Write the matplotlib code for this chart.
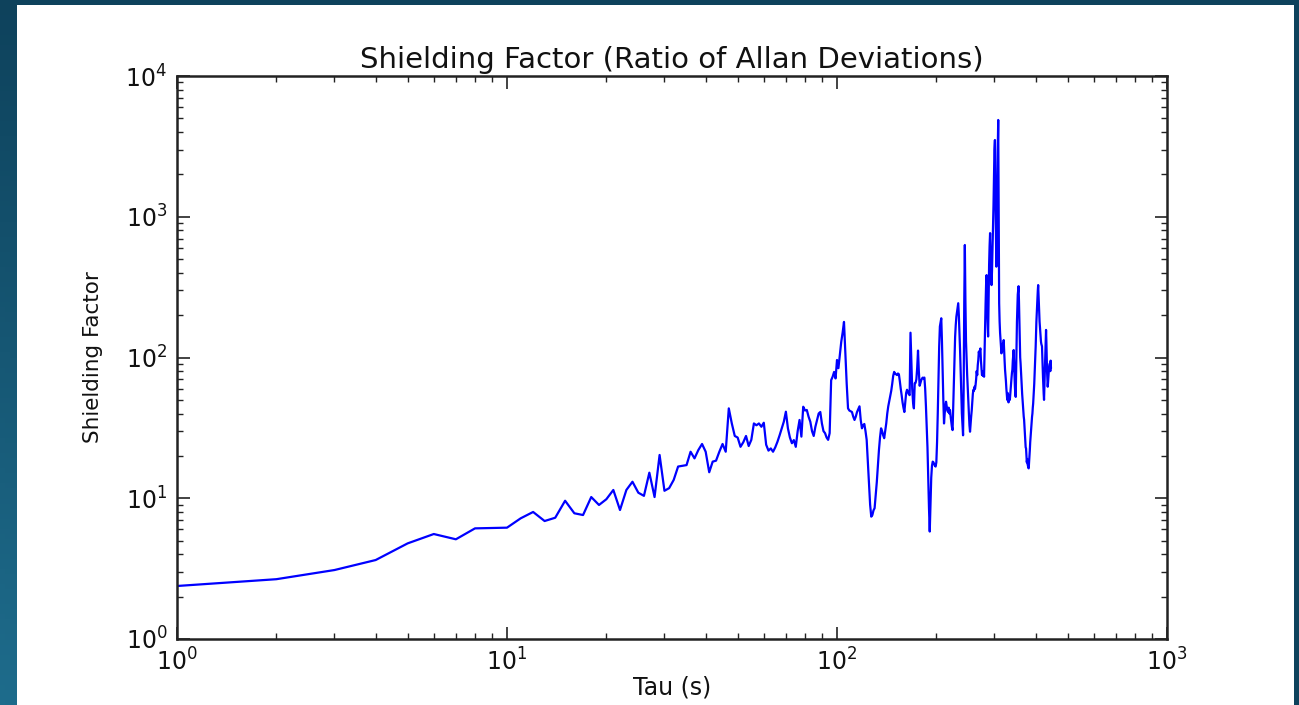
import numpy as np
import matplotlib
matplotlib.use("Agg")
import matplotlib.pyplot as plt
from matplotlib.patches import Rectangle
from matplotlib.ticker import LogLocator

# ---------------- data ----------------
title = "Shielding Factor (Ratio of Allan Deviations)"
xlabel = "Tau (s)"
ylabel = "Shielding Factor"

shielding = [
    2.38, 2.66, 3.09, 3.64, 4.78, 5.57, 5.11, 6.11, 6.15, 6.18,
    7.2, 7.99, 6.89, 7.27, 9.6, 7.82, 7.6, 10.2, 8.96, 9.84,
    11.45, 8.25, 11.45, 13.1, 10.95, 10.4, 15.2, 10.2, 20.3, 11.3,
    11.8, 13.5, 16.8, 17.0, 17.2, 21.4, 19.2, 22.0, 24.3, 21.4,
    15.3, 18.2, 18.5, 21.4, 24.3, 21.4, 43.5, 34.0, 27.7, 27.0,
    23.2, 25.0, 27.7, 23.5, 26.0, 34.0, 33.0, 34.0, 32.2, 34.4,
    24.0, 21.8, 22.6, 21.4, 23.0, 25.2, 28.0, 31.4, 35.0, 41.2,
    31.4, 27.0, 24.6, 25.9, 23.2, 30.0, 36.0, 27.4, 44.7, 42.0,
    42.4, 38.0, 35.0, 30.0, 27.7, 32.2, 36.0, 40.0, 41.0, 34.0,
    30.0, 29.0, 27.0, 26.0, 29.0, 69.0, 73.0, 79.0, 71.0, 96.0,
    84, 105, 129, 150, 179, 107, 65, 43.5, 42, 41.5,
    41, 38, 36, 38, 41, 43, 45, 36, 31.4, 33,
    33.7, 30, 26, 18, 12.5, 9, 7.4, 7.6, 8.2, 8.5,
    10.5, 13, 17, 22, 27, 31.4, 30, 28, 26.7, 30,
    34, 40, 45, 49, 53, 58, 65, 74, 79, 77,
    76, 75, 77, 76, 68, 60, 54, 48, 44, 41,
    48, 56, 59, 57, 55, 54, 150, 95, 60, 48,
    43.5, 65.6, 66, 70, 85, 112, 80, 63, 66, 69,
    71, 72, 71, 72, 60, 45, 32, 23, 14, 8.5,
    5.8, 9, 14, 17, 18.2, 18, 17.5, 17, 16.8, 18,
    25, 40, 70, 120, 166, 178, 190, 130, 80, 50,
    34, 40, 45, 48.5, 45, 42, 41, 44, 40, 42.4,
    38, 35, 32, 30.5, 45, 69, 100, 140, 170, 195,
    210, 225, 243, 200, 150, 113, 80, 55, 40, 33,
    28, 60, 250, 630, 250, 130, 96, 75, 60, 50,
    40, 33, 29.7, 34, 38, 42, 48, 55, 59, 58,
    62, 60, 64, 70, 80, 75, 88, 96, 110, 104,
    112, 116, 95, 85, 75, 78, 74, 80, 73, 110,
    160, 240, 330, 385, 250, 180, 141, 260, 450, 620,
    765, 500, 400, 327, 420, 600, 830, 1200, 2000, 3000,
    3508, 1500, 800, 442, 700, 1500, 3000, 4870, 1000, 243,
    180, 150, 133, 115, 107, 120, 112, 125, 118, 133,
    110, 95, 82, 75, 68, 60, 55, 50, 56, 52,
    48, 54, 50, 50, 55, 60, 66, 72, 78, 82,
    95, 105, 113, 90, 75, 62, 55, 52.5, 80, 130,
    180, 230, 280, 300, 321, 250, 180, 130, 100, 91,
    80, 70, 60, 55, 50, 46, 42, 38, 36, 32,
    28, 25, 23, 22.6, 20, 18, 19, 17.5, 17, 16.5,
    16.3, 18, 20, 22, 25, 27.3, 30, 33, 36, 38,
    40, 44, 47, 52, 58, 65, 75, 86, 100, 120,
    150, 180, 206, 240, 280, 300, 327, 280, 230, 200,
    180, 166, 150, 140, 130, 125, 122, 120, 100, 85,
    72, 62, 55, 50, 60, 72, 90, 110, 135, 157,
    130, 100, 80, 70, 62, 66, 72, 78, 84, 88,
    90, 91, 80, 95, 85,
]
tau = np.arange(1, len(shielding) + 1)

# ---------------- figure ----------------
W, H = 1299, 705
fig = plt.figure(figsize=(W / 100, H / 100), dpi=100)

# slide-like teal gradient background
bg = fig.add_axes([0, 0, 1, 1], zorder=-10)
bg.set_axis_off()
gx = np.linspace(0, 1, 260)
gy = np.linspace(0, 1, 140)
GX, GY = np.meshgrid(gx, gy)
w = GY * (1 - GX)
dark = np.array([14, 66, 92]) / 255.0
light = np.array([30, 108, 140]) / 255.0
img = dark[None, None, :] * (1 - w[..., None]) + light[None, None, :] * w[..., None]
bg.imshow(img, extent=[0, 1, 0, 1], aspect="auto", origin="upper")
bg.set_xlim(0, 1)
bg.set_ylim(0, 1)
bg.add_patch(Rectangle((17 / W, 0), (1294 - 17) / W, (H - 5) / H,
                       facecolor="white", edgecolor="none", transform=bg.transAxes))

ax = fig.add_axes([177 / W, 66 / H, (1167 - 177) / W, (639 - 76) / H])
ax.plot(tau, shielding, color="#0000ff", lw=1.6)
ax.set_xscale("log")
ax.set_yscale("log")
ax.set_xlim(1, 1000)
ax.set_ylim(1, 1e4)

ax.xaxis.set_minor_locator(LogLocator(base=10, subs=np.arange(2, 10), numticks=20))
ax.yaxis.set_minor_locator(LogLocator(base=10, subs=np.arange(2, 10), numticks=20))
ax.tick_params(which="both", direction="in", top=True, right=True, color="#222222")
ax.tick_params(which="major", length=9, width=1.2, labelsize=17, pad=7)
ax.tick_params(which="minor", length=4.5, width=1.0)
for s in ax.spines.values():
    s.set_linewidth(1.8)
    s.set_color("#222222")

ax.set_title(title, fontsize=21, pad=6, color="#111111")
ax.set_xlabel(xlabel, fontsize=17, labelpad=0, color="#111111")
ax.set_ylabel(ylabel, fontsize=15.5, labelpad=16, color="#111111")
for lab in ax.get_xticklabels() + ax.get_yticklabels():
    lab.set_color("#111111")

fig.savefig("out.png", dpi=100)
